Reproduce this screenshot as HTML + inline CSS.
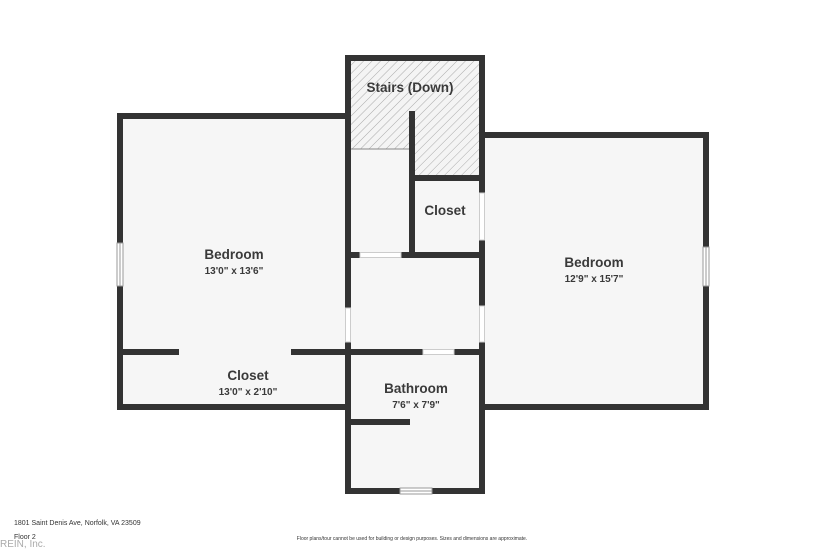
<!DOCTYPE html>
<html><head><meta charset="utf-8"><style>
html,body{margin:0;padding:0;background:#fff;}
svg{display:block;font-family:"Liberation Sans",sans-serif;}
</style></head><body>
<svg width="825" height="549" viewBox="0 0 825 549" xmlns="http://www.w3.org/2000/svg">
<defs>
<pattern id="h" width="6" height="6" patternUnits="userSpaceOnUse" patternTransform="rotate(45)">
<rect width="6" height="6" fill="#f4f4f4"/><line x1="0" y1="0" x2="0" y2="6" stroke="#aaa" stroke-width="1"/>
</pattern>
</defs>
<rect x="120" y="116" width="228" height="291" fill="#f6f6f6"/>
<rect x="348" y="58" width="134" height="433" fill="#f6f6f6"/>
<rect x="482" y="135" width="224" height="272" fill="#f6f6f6"/>
<path d="M351 61 H479 V178 H412 V149 H351 Z" fill="url(#h)"/>
<line x1="351" y1="149" x2="412" y2="149" stroke="#888" stroke-width="1"/>
<g stroke="#333" stroke-width="6" fill="none" stroke-linecap="square">
<line x1="120" y1="116" x2="348" y2="116"/>
<line x1="120" y1="116" x2="120" y2="243"/>
<line x1="120" y1="286" x2="120" y2="407"/>
<line x1="120" y1="407" x2="348" y2="407"/>
<line x1="120" y1="352" x2="176" y2="352"/>
<line x1="294" y1="352" x2="420" y2="352"/>
<line x1="457" y1="352" x2="482" y2="352"/>
<line x1="348" y1="58" x2="482" y2="58"/>
<line x1="348" y1="58" x2="348" y2="305"/>
<line x1="348" y1="345" x2="348" y2="491"/>
<line x1="348" y1="491" x2="400" y2="491"/>
<line x1="432" y1="491" x2="482" y2="491"/>
<line x1="482" y1="58" x2="482" y2="190"/>
<line x1="482" y1="243" x2="482" y2="303"/>
<line x1="482" y1="345" x2="482" y2="491"/>
<line x1="412" y1="114" x2="412" y2="255"/>
<line x1="412" y1="178" x2="482" y2="178"/>
<line x1="348" y1="255" x2="357" y2="255"/>
<line x1="404" y1="255" x2="482" y2="255"/>
<line x1="348" y1="422" x2="407" y2="422"/>
<line x1="482" y1="135" x2="706" y2="135"/>
<line x1="706" y1="135" x2="706" y2="247"/>
<line x1="706" y1="286" x2="706" y2="407"/>
<line x1="482" y1="407" x2="706" y2="407"/>
</g>
<g fill="#fff" stroke="#ccc" stroke-width="1">
<rect x="479.5" y="193" width="5" height="47"/>
<rect x="479.5" y="306" width="5" height="36"/>
<rect x="345.5" y="308" width="5" height="34"/>
<rect x="360" y="252.5" width="41" height="5"/>
<rect x="423" y="349.5" width="31" height="5"/>
</g>
<g fill="#fff" stroke="#999" stroke-width="1">
<rect x="117" y="243" width="6" height="43"/><line x1="120" y1="243" x2="120" y2="286"/>
<rect x="703" y="247" width="6" height="39"/><line x1="706" y1="247" x2="706" y2="286"/>
<rect x="400" y="488" width="32" height="6"/><line x1="400" y1="491" x2="432" y2="491"/>
</g>
<g fill="#3a3a3a" text-anchor="middle" font-weight="bold">
<text x="410" y="92" font-size="13.5">Stairs (Down)</text>
<text x="445" y="215" font-size="13.5">Closet</text>
<text x="234" y="259" font-size="13.5">Bedroom</text>
<text x="234" y="274" font-size="10">13'0" x 13'6"</text>
<text x="248" y="380" font-size="13.5">Closet</text>
<text x="248" y="395" font-size="10">13'0" x 2'10"</text>
<text x="416" y="393" font-size="13.5">Bathroom</text>
<text x="416" y="408" font-size="10">7'6" x 7'9"</text>
<text x="594" y="267" font-size="13.5">Bedroom</text>
<text x="594" y="282" font-size="10">12'9" x 15'7"</text>
</g>
<text x="14" y="525" font-size="7" fill="#333">1801 Saint Denis Ave, Norfolk, VA 23509</text>
<text x="14" y="539" font-size="7" fill="#333">Floor 2</text>
<text x="0" y="547" font-size="10" fill="#aaa">REIN, Inc.</text>
<text x="412" y="540" font-size="5" text-anchor="middle" fill="#333">Floor plans/tour cannot be used for building or design purposes. Sizes and dimensions are approximate.</text>
</svg>
</body></html>
